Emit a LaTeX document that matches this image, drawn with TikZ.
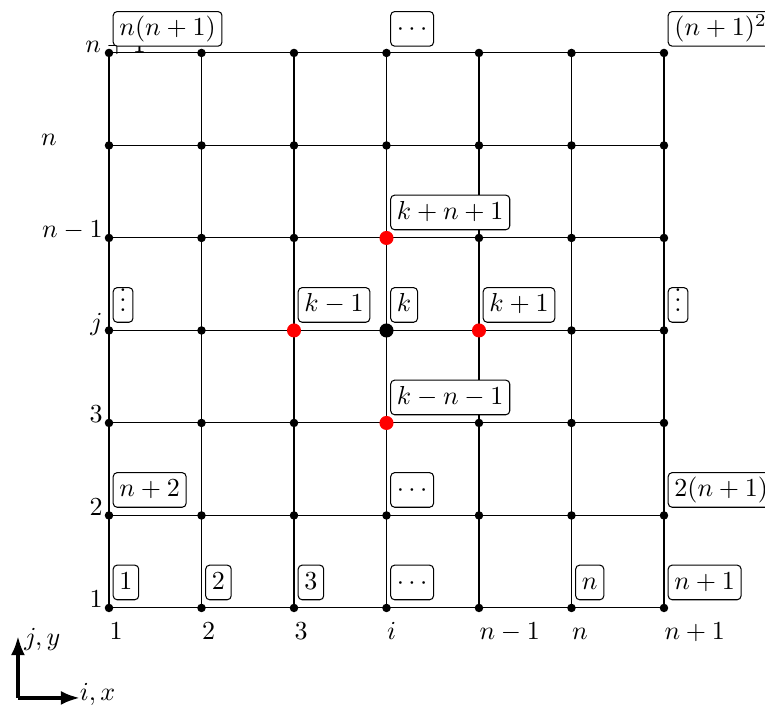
\documentclass[tikz,border=0pt]{standalone}
\usetikzlibrary{arrows.meta}
\tikzset{
  gridline/.style={line width=0.4pt},
  smalldot/.style={circle,fill=black,inner sep=0pt,minimum size=0.115cm},
  bigdot/.style={circle,fill=black,inner sep=0pt,minimum size=0.19cm},
  reddot/.style={bigdot,fill=red},
  idxbox/.style={draw,rounded corners=1.5pt,fill=white,anchor=south west,inner xsep=2.4pt,inner ysep=2pt,text height=7.3pt,text depth=2pt,line width=0.4pt},
  collabel/.style={anchor=base west,inner sep=0pt},
  rowlabel/.style={anchor=base east,inner sep=0pt},
  axisarrow/.style={line width=1.4pt,-{Latex[length=0.26cm,width=0.19cm]}},
}
\begin{document}
\begin{tikzpicture}
\useasboundingbox (-1.473,-1.446) rectangle (8.865,8.216);
% grid points
\foreach \i in {1,...,7}{
  \foreach \j in {1,...,7}{
    \coordinate (p\i\j) at ({(\i-1)*1.25},{(\j-1)*1.25});
  }
}
% grid lines
\foreach \j in {1,...,7}{
  \draw[gridline] (p1\j) -- (p7\j);
}
\foreach \i in {1,...,7}{
  \draw[gridline] (p\i1) -- (p\i7);
}
% dots
\foreach \i in {1,...,7}{
  \foreach \j in {1,...,7}{
    \node[smalldot] (d\i\j) at (p\i\j) {};
  }
}
\node[reddot] (r34) at (p34) {};
\node[reddot] (r54) at (p54) {};
\node[reddot] (r43) at (p43) {};
\node[reddot] (r45) at (p45) {};
\node[bigdot] (b44) at (p44) {};
% column labels
\node[collabel] (c1) at ([yshift=-0.42cm]p11) {$1$};
\node[collabel] (c2) at ([yshift=-0.42cm]p21) {$2$};
\node[collabel] (c3) at ([yshift=-0.42cm]p31) {$3$};
\node[collabel] (c4) at ([yshift=-0.42cm]p41) {$i$};
\node[collabel] (c5) at ([yshift=-0.42cm]p51) {$n-1$};
\node[collabel] (c6) at ([yshift=-0.42cm]p61) {$n$};
\node[collabel] (c7) at ([yshift=-0.42cm]p71) {$n+1$};
% row labels
\node[rowlabel] (w1) at ([xshift=-0.08cm]p11) {$1$};
\node[rowlabel] (w2) at ([xshift=-0.08cm]p12) {$2$};
\node[rowlabel] (w3) at ([xshift=-0.08cm]p13) {$3$};
\node[rowlabel] (w4) at ([xshift=-0.08cm]p14) {$j$};
\node[rowlabel] (w5) at ([xshift=-0.08cm]p15) {$n-1$};
\node[rowlabel] (w6) at ([xshift=-0.70cm]p16) {$n$};
\node[anchor=base west,inner sep=0pt] (w7) at ([xshift=-0.325cm]p17) {$n+1$};
% index boxes
\node[idxbox] (b11) at ([shift={(0.05,0.104)}]p11) {$1$};
\node[idxbox] (b21) at ([shift={(0.05,0.104)}]p21) {$2$};
\node[idxbox] (b31) at ([shift={(0.05,0.104)}]p31) {$3$};
\node[idxbox] (b41) at ([shift={(0.05,0.104)}]p41) {$\cdots$};
\node[idxbox] (b61) at ([shift={(0.05,0.104)}]p61) {$n$};
\node[idxbox] (b71) at ([shift={(0.05,0.104)}]p71) {$n+1$};
\node[idxbox] (b12) at ([shift={(0.05,0.104)}]p12) {$n+2$};
\node[idxbox] (b42) at ([shift={(0.05,0.104)}]p42) {$\cdots$};
\node[idxbox] (b72) at ([shift={(0.05,0.104)}]p72) {$2(n+1)$};
\node[idxbox] (b43) at ([shift={(0.05,0.104)}]p43) {$k-n-1$};
\node[idxbox] (b14) at ([shift={(0.05,0.104)}]p14) {$\vdots$};
\node[idxbox] (b34) at ([shift={(0.05,0.104)}]p34) {$k-1$};
\node[idxbox] (b44l) at ([shift={(0.05,0.104)}]p44) {$k$};
\node[idxbox] (b54) at ([shift={(0.05,0.104)}]p54) {$k+1$};
\node[idxbox] (b74) at ([shift={(0.05,0.104)}]p74) {$\vdots$};
\node[idxbox] (b45) at ([shift={(0.05,0.104)}]p45) {$k+n+1$};
\node[idxbox] (b17) at ([shift={(0.05,0.085)}]p17) {$n(n+1)$};
\node[idxbox] (b47) at ([shift={(0.05,0.085)}]p47) {$\cdots$};
\node[idxbox] (b77) at ([shift={(0.05,0.085)}]p77) {$(n+1)^2$};
% axes
\coordinate (ax0) at (-1.23,-1.216);
\coordinate (axy) at (-1.23,-0.378);
\coordinate (axx) at (-0.392,-1.216);
\draw[axisarrow] (ax0) -- (axy);
\draw[axisarrow] (ax0) -- (axx);
\node[anchor=base west,inner sep=0pt] (ly) at (-1.15,-0.51) {$j,y$};
\node[anchor=base west,inner sep=0pt] (lx) at (-0.40,-1.257) {$i,x$};
\end{tikzpicture}
\end{document}
